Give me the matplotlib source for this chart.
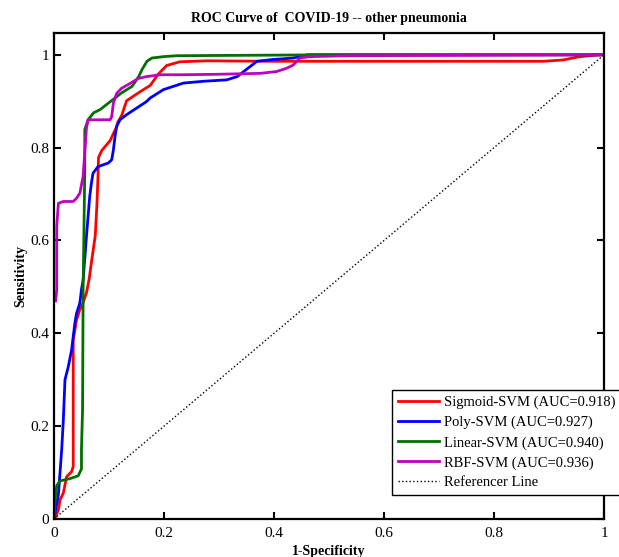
import matplotlib
matplotlib.use("Agg")
import matplotlib.pyplot as plt
import numpy as np

# ROC points (1-specificity, sensitivity)
sig_fpr = [0, 0.002, 0.008, 0.011, 0.017, 0.023, 0.032, 0.035, 0.035, 0.041, 0.047,
           0.053, 0.059, 0.064, 0.068, 0.075, 0.078, 0.080, 0.081, 0.087, 0.102,
           0.111, 0.114, 0.116, 0.123, 0.132, 0.156, 0.175, 0.190, 0.205, 0.229,
           0.278, 0.398, 0.89, 0.926, 0.956, 0.993, 1.0]
sig_tpr = [0, 0.002, 0.02, 0.041, 0.056, 0.091, 0.102, 0.113, 0.386, 0.429, 0.451,
           0.466, 0.487, 0.517, 0.552, 0.61, 0.675, 0.737, 0.779, 0.794, 0.815,
           0.838, 0.845, 0.855, 0.869, 0.901, 0.920, 0.934, 0.959, 0.977, 0.985,
           0.987, 0.986, 0.986, 0.989, 0.996, 1.0, 1.0]

poly_fpr = [0, 0.003, 0.008, 0.014, 0.017, 0.020, 0.026, 0.032, 0.038, 0.041, 0.047,
            0.050, 0.053, 0.059, 0.065, 0.068, 0.071, 0.080, 0.099, 0.105, 0.108,
            0.111, 0.114, 0.120, 0.132, 0.150, 0.168, 0.175, 0.199, 0.235, 0.272,
            0.314, 0.333, 0.345, 0.357, 0.369, 0.399, 0.435, 0.460, 1.0]
poly_tpr = [0, 0.02, 0.052, 0.149, 0.213, 0.30, 0.328, 0.364, 0.422, 0.443, 0.465,
            0.494, 0.515, 0.608, 0.695, 0.723, 0.745, 0.759, 0.767, 0.774, 0.795,
            0.824, 0.846, 0.86, 0.871, 0.885, 0.899, 0.907, 0.925, 0.939, 0.943,
            0.946, 0.953, 0.964, 0.975, 0.986, 0.99, 0.993, 1.0, 1.0]

lin_fpr = [0, 0.002, 0.005, 0.011, 0.029, 0.044, 0.050, 0.050, 0.052, 0.053, 0.056,
           0.056, 0.062, 0.072, 0.084, 0.099, 0.111, 0.123, 0.142, 0.154, 0.160,
           0.169, 0.178, 0.199, 0.223, 0.5, 1.0]
lin_tpr = [0, 0.04, 0.072, 0.082, 0.087, 0.093, 0.108, 0.151, 0.237, 0.495, 0.753,
           0.839, 0.860, 0.875, 0.882, 0.896, 0.907, 0.918, 0.932, 0.953, 0.968,
           0.986, 0.993, 0.996, 0.998, 1.0, 1.0]

rbf_fpr = [0.003, 0.005, 0.005, 0.008, 0.017, 0.035, 0.041, 0.047, 0.053, 0.056,
           0.059, 0.062, 0.084, 0.102, 0.105, 0.108, 0.114, 0.123, 0.138, 0.153,
           0.168, 0.193, 0.229, 0.296, 0.375, 0.405, 0.423, 0.435, 0.447, 0.465,
           0.538, 1.0]
rbf_tpr = [0.47, 0.494, 0.63, 0.68, 0.684, 0.684, 0.691, 0.702, 0.738, 0.790,
           0.842, 0.86, 0.86, 0.86, 0.867, 0.896, 0.917, 0.928, 0.938, 0.949,
           0.953, 0.957, 0.957, 0.958, 0.96, 0.964, 0.971, 0.978, 0.993, 0.996,
           0.998, 1.0]

labels = ["Sigmoid-SVM (AUC=0.918)", "Poly-SVM (AUC=0.927)",
          "Linear-SVM (AUC=0.940)", "RBF-SVM (AUC=0.936)"]
ticks = [0, 0.2, 0.4, 0.6, 0.8, 1]
tick_labels = ["0", "0.2", "0.4", "0.6", "0.8", "1"]

plt.rcParams.update({"font.family": "Liberation Serif", "font.size": 11})

fig = plt.figure(figsize=(6.19, 5.57), dpi=100)
ax = fig.add_axes([0.0872, 0.0682, 0.8886, 0.8726])

curves = [(sig_fpr, sig_tpr, "#ff0000"), (poly_fpr, poly_tpr, "#0000ff"),
          (lin_fpr, lin_tpr, "#007000"), (rbf_fpr, rbf_tpr, "#bf00bf")]
for (fx, fy, c), lab in zip(curves, labels):
    ax.plot(fx, fy, color=c, linewidth=2.0, label=lab)
ax.plot([0, 1], [0, 1], color="black", linestyle=":", linewidth=1.0,
        label="Referencer Line")

ax.set_xlim(0, 1)
ax.set_ylim(0, 1.047)
ax.set_xticks(ticks)
ax.set_xticklabels(tick_labels)
ax.set_yticks(ticks)
ax.set_yticklabels(tick_labels)
ax.tick_params(direction="in", length=5, width=1.5, top=True, right=True,
               labeltop=False, labelright=False)
ax.tick_params(axis="x", pad=6)
for s in ax.spines.values():
    s.set_linewidth(1.6)

ax.set_title("ROC Curve of  COVID-19 -- other pneumonia", fontsize=10,
             fontweight="bold", pad=8)
ax.set_xlabel("1-Specificity", fontsize=10, fontweight="bold", labelpad=3)
ax.set_ylabel("Sensitivity", fontsize=10, fontweight="bold", labelpad=2)

leg = ax.legend(loc="lower left", bbox_to_anchor=(0.615, 0.049, 0.414, 0.216),
                mode="expand", fancybox=False, edgecolor="black",
                framealpha=1, handlelength=2.8, handletextpad=0.35,
                borderaxespad=0, labelspacing=0.45, fontsize=10.5)
leg.get_frame().set_linewidth(1.0)
leg.set_clip_on(False)

fig.savefig("out.png", dpi=100)
